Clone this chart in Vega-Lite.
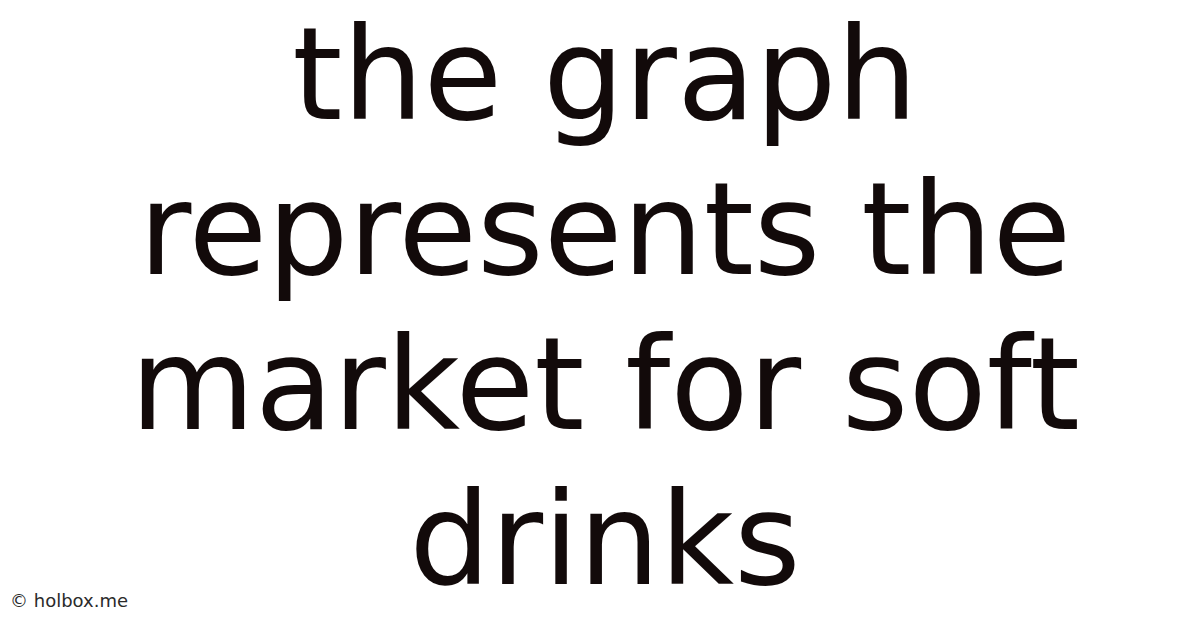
{
  "$schema": "https://vega.github.io/schema/vega-lite/v6.json",
  "autosize": {"type": "fit", "contains": "padding"},
  "width": 1200,
  "height": 628,
  "padding": 0,
  "background": "#ffffff",
  "data": {
    "values": [
      {"role": "headline", "line": 1, "text": "the graph"},
      {"role": "headline", "line": 2, "text": "represents the"},
      {"role": "headline", "line": 3, "text": "market for soft"},
      {"role": "headline", "line": 4, "text": "drinks"},
      {"role": "credit", "line": 4.148, "text": "© holbox.me"}
    ]
  },
  "encoding": {
    "y": {
      "field": "line",
      "type": "quantitative",
      "scale": {"domain": [0.2323, 4.2839], "reverse": true, "nice": false, "zero": false},
      "axis": null
    }
  },
  "layer": [
    {
      "transform": [{"filter": "datum.role == 'headline'"}],
      "mark": {
        "type": "text",
        "font": "DejaVu Sans",
        "fontSize": 128,
        "align": "center",
        "baseline": "alphabetic",
        "color": "#120a0a",
        "dx": 5
      },
      "encoding": {
        "x": {
          "datum": 0,
          "type": "quantitative",
          "scale": {"domain": [-1, 1], "nice": false, "zero": false},
          "axis": null
        },
        "text": {"field": "text"}
      }
    },
    {
      "transform": [{"filter": "datum.role == 'credit'"}],
      "mark": {
        "type": "text",
        "font": "DejaVu Sans",
        "fontSize": 18,
        "align": "left",
        "baseline": "alphabetic",
        "color": "#2a2a2a",
        "dx": 10
      },
      "encoding": {
        "x": {"datum": -1, "type": "quantitative"},
        "text": {"field": "text"}
      }
    }
  ],
  "config": {
    "view": {"stroke": null}
  }
}
